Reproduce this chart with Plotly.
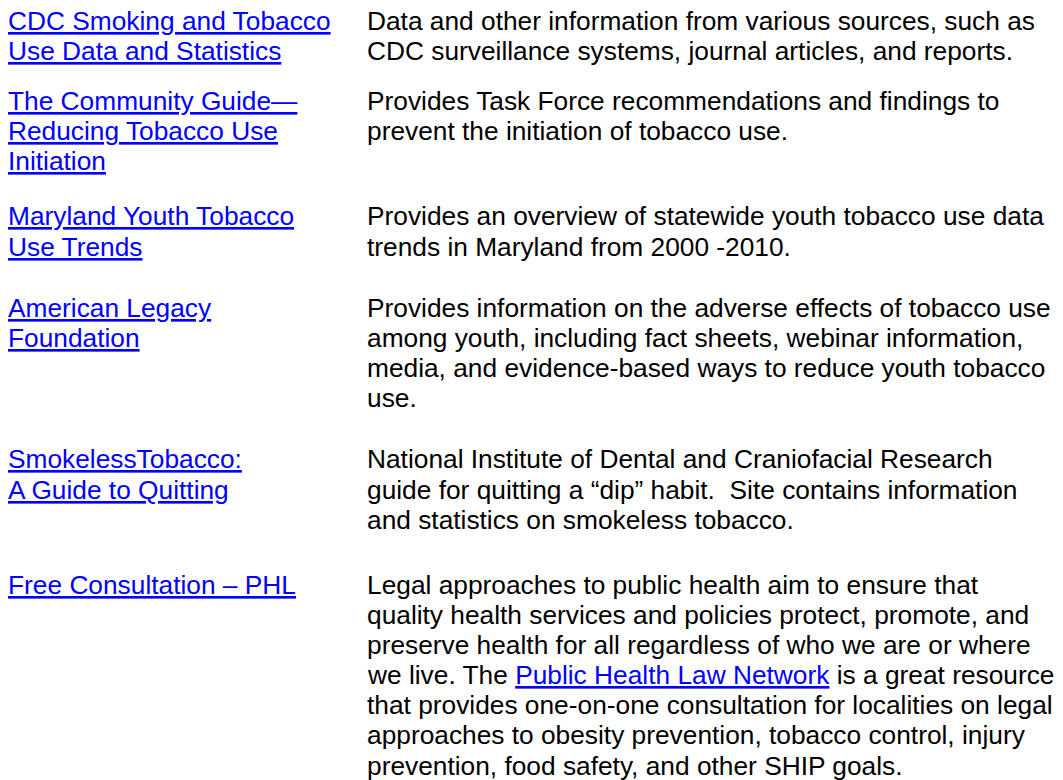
import plotly.graph_objects as go

# ---- content (text lines of each table row) ----
resource_titles = [
    ["CDC Smoking and Tobacco", "Use Data and Statistics"],
    ["The Community Guide\u2014", "Reducing Tobacco Use", "Initiation"],
    ["Maryland Youth Tobacco", "Use Trends"],
    ["American Legacy", "Foundation"],
    ["SmokelessTobacco:", "A Guide to Quitting"],
    ["Free Consultation \u2013 PHL"],
]

resource_descriptions = [
    ["Data and other information from various sources, such as",
     "CDC surveillance systems, journal articles, and reports."],
    ["Provides Task Force recommendations and findings to",
     "prevent the initiation of tobacco use."],
    ["Provides an overview of statewide youth tobacco use data",
     "trends in Maryland from 2000 -2010."],
    ["Provides information on the adverse effects of tobacco use",
     "among youth, including fact sheets, webinar information,",
     "media, and evidence-based ways to reduce youth tobacco",
     "use."],
    ["National Institute of Dental and Craniofacial Research",
     "guide for quitting a \u201cdip\u201d habit.  Site contains information",
     "and statistics on smokeless tobacco."],
    ["Legal approaches to public health aim to ensure that",
     "quality health services and policies protect, promote, and",
     "preserve health for all regardless of who we are or where",
     "we live. The [[Public Health Law Network]] is a great resource",
     "that provides one-on-one consultation for localities on legal",
     "approaches to obesity prevention, tobacco control, injury",
     "prevention, food safety, and other SHIP goals."],
]

# ---- layout / style ----
W, H = 1063, 780
FONT = "Arial, Liberation Sans, Helvetica, sans-serif"
FSIZE = 26.3
LINK = "#0000FF"
TEXT = "#000000"
row_first_baseline = [29.3, 109.3, 224.7, 316.3, 467.7, 593.0]
line_step = 30.15
x_left, x_right = -2.5, 357          # pixel positions of the two columns
center_shift = 16.3


def link(s):
    return ("<span style='color:%s;text-decoration:underline;"
            "text-decoration-thickness:2px'>%s</span>" % (LINK, s))


def render_desc(s):
    if "[[" in s:
        pre, rest = s.split("[[", 1)
        mid, post = rest.split("]]", 1)
        return pre + link(mid) + post
    return s


def px_to_paper(xpx, ypx):
    return xpx / W, 1 - ypx / H


annotations = []
for r, (title, desc) in enumerate(zip(resource_titles, resource_descriptions)):
    for col_x, lines, color, fmt in ((x_left, title, LINK, link),
                                     (x_right, desc, TEXT, render_desc)):
        for i, line in enumerate(lines):
            px, py = px_to_paper(col_x, row_first_baseline[r] + i * line_step - center_shift)
            annotations.append(dict(
                x=px, y=py, xref="paper", yref="paper",
                xanchor="left", yanchor="middle",
                text=fmt(line), showarrow=False,
                font=dict(family=FONT, size=FSIZE, color=color), align="left"))

fig = go.Figure()
fig.update_layout(
    width=W, height=H,
    margin=dict(l=0, r=0, t=0, b=0),
    paper_bgcolor="white", plot_bgcolor="white",
    xaxis=dict(visible=False, fixedrange=True),
    yaxis=dict(visible=False, fixedrange=True),
    annotations=annotations,
    showlegend=False,
)
fig.write_html("out.html", config={"displayModeBar": False})
